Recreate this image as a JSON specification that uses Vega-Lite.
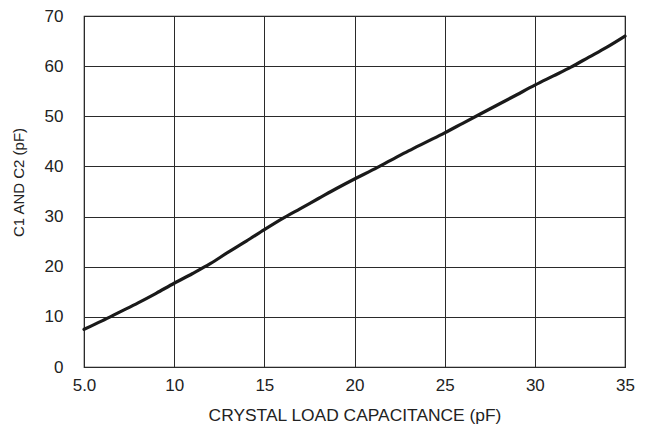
{
  "$schema": "https://vega.github.io/schema/vega-lite/v6.json",
  "autosize": "none",
  "width": 541,
  "height": 351,
  "padding": {"left": 84, "top": 16, "right": 23, "bottom": 67},
  "background": "white",
  "config": {
    "font": "Liberation Sans",
    "view": {"stroke": "#1a1a1a", "strokeWidth": 1.2},
    "axis": {
      "grid": true,
      "gridColor": "#2a2a2a",
      "gridWidth": 1,
      "gridOpacity": 1,
      "domain": false,
      "ticks": false,
      "labelFlush": false,
      "labelFont": "Liberation Sans",
      "labelFontSize": 17,
      "labelColor": "#222",
      "titleFont": "Liberation Sans",
      "titleFontSize": 17.4,
      "titleFontWeight": "normal",
      "titleColor": "#222"
    }
  },
  "data": {
    "values": [
      {"cl": 5, "c": 7.5},
      {"cl": 6, "c": 9.2},
      {"cl": 7, "c": 11.0},
      {"cl": 8, "c": 12.8},
      {"cl": 9, "c": 14.7},
      {"cl": 10, "c": 16.7},
      {"cl": 11, "c": 18.6},
      {"cl": 12, "c": 20.6},
      {"cl": 13, "c": 22.9},
      {"cl": 14, "c": 25.1},
      {"cl": 15, "c": 27.4},
      {"cl": 16, "c": 29.6},
      {"cl": 17, "c": 31.6},
      {"cl": 18, "c": 33.6},
      {"cl": 19, "c": 35.6},
      {"cl": 20, "c": 37.5},
      {"cl": 21, "c": 39.3},
      {"cl": 22, "c": 41.2},
      {"cl": 23, "c": 43.1},
      {"cl": 24, "c": 44.9},
      {"cl": 25, "c": 46.7},
      {"cl": 26, "c": 48.6},
      {"cl": 27, "c": 50.5},
      {"cl": 28, "c": 52.4},
      {"cl": 29, "c": 54.3},
      {"cl": 30, "c": 56.2},
      {"cl": 31, "c": 58.0},
      {"cl": 32, "c": 59.8},
      {"cl": 33, "c": 61.8},
      {"cl": 34, "c": 63.8},
      {"cl": 35, "c": 66.0}
    ]
  },
  "mark": {"type": "line", "color": "#1a1a1a", "strokeWidth": 3.2, "interpolate": "monotone", "strokeCap": "round"},
  "encoding": {
    "x": {
      "field": "cl",
      "type": "quantitative",
      "scale": {"domain": [5, 35], "nice": false, "zero": false},
      "axis": {
        "values": [5, 10, 15, 20, 25, 30, 35],
        "labelExpr": "datum.value == 5 ? '5.0' : datum.label",
        "labelPadding": 10,
        "title": "CRYSTAL LOAD CAPACITANCE (pF)",
        "titlePadding": 13
      }
    },
    "y": {
      "field": "c",
      "type": "quantitative",
      "scale": {"domain": [0, 70], "nice": false},
      "axis": {
        "values": [0, 10, 20, 30, 40, 50, 60, 70],
        "labelPadding": 21,
        "title": "C1 AND C2 (pF)",
        "titleFontSize": 15,
        "titlePadding": 18,
        "titleY": 166
      }
    }
  }
}
